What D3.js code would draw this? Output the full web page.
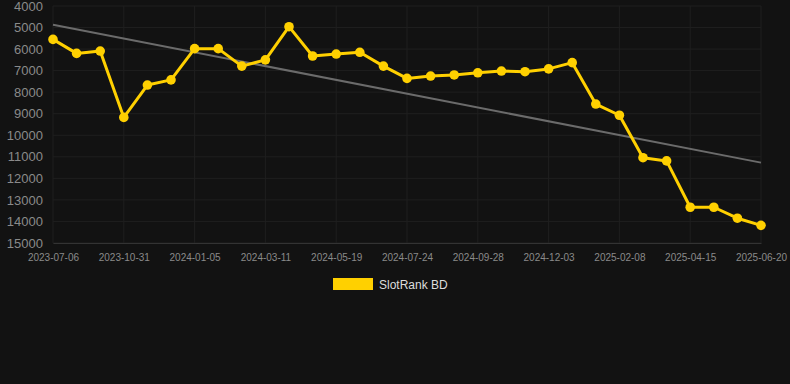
<!DOCTYPE html>
<html>
<head>
<meta charset="utf-8">
<script src="https://cdn.jsdelivr.net/npm/d3@7"></script>
<style>
    body { margin: 0; background: #121212; }
    svg { display: block; font-family: "Liberation Sans", Arial, sans-serif; }
</style>
</head>
<body>
<div id="chart"></div>
<script>
// dates of each sample (only every third one is labelled on the axis)
const dates = [
    "2023-07-06", "2023-08-14", "2023-09-22", "2023-10-31", "2023-11-22", "2023-12-14",
    "2024-01-05", "2024-01-27", "2024-02-18", "2024-03-11", "2024-04-03", "2024-04-26",
    "2024-05-19", "2024-06-10", "2024-07-02", "2024-07-24", "2024-08-15", "2024-09-06",
    "2024-09-28", "2024-10-20", "2024-11-11", "2024-12-03", "2024-12-25", "2025-01-17",
    "2025-02-08", "2025-03-02", "2025-03-24", "2025-04-15", "2025-05-07", "2025-05-29",
    "2025-06-20"
];
const ranks = [
    5550, 6200, 6090, 9170, 7670, 7430,
    5980, 5980, 6790, 6500, 4960, 6320,
    6230, 6150, 6790, 7360, 7250, 7200,
    7100, 7020, 7050, 6920, 6630, 8550,
    9070, 11040, 11190, 13340, 13340, 13850,
    14180
];
const trendEnds = [4870, 11270];
const yTicks = [4000, 5000, 6000, 7000, 8000, 9000, 10000, 11000, 12000, 13000, 14000, 15000];
const seriesName = "SlotRank BD";

const width = 790, height = 384;
const margin = { top: 6, right: 29, bottom: 141, left: 53 };
const innerW = width - margin.left - margin.right;
const innerH = height - margin.top - margin.bottom;

const svg = d3.select("#chart")
    .append("svg")
    .attr("width", width)
    .attr("height", height);

svg.append("rect")
    .attr("width", width)
    .attr("height", height)
    .attr("fill", "#121212");

const g = svg.append("g")
    .attr("transform", `translate(${margin.left},${margin.top})`);

const x = d3.scalePoint()
    .domain(dates)
    .range([0, innerW]);

const y = d3.scaleLinear()
    .domain([4000, 15000])
    .range([0, innerH]);

const labelled = dates.filter((d, i) => i % 3 === 0);

// grid
g.append("g")
    .selectAll("line")
    .data(yTicks)
    .join("line")
    .attr("x1", 0)
    .attr("x2", innerW)
    .attr("y1", d => y(d))
    .attr("y2", d => y(d))
    .attr("stroke", "#1f1f1f")
    .attr("stroke-width", 1);

g.append("g")
    .selectAll("line")
    .data(labelled)
    .join("line")
    .attr("x1", d => x(d))
    .attr("x2", d => x(d))
    .attr("y1", 0)
    .attr("y2", innerH)
    .attr("stroke", "#1f1f1f")
    .attr("stroke-width", 1);

// y axis
const yAxis = g.append("g")
    .call(d3.axisLeft(y).tickValues(yTicks).tickFormat(d3.format("d")).tickSize(0).tickPadding(10));
yAxis.select(".domain").remove();
yAxis.selectAll("text")
    .attr("fill", "#8a8a8a")
    .style("font-size", "13px");

// x axis
const xAxis = g.append("g")
    .attr("transform", `translate(0,${innerH})`)
    .call(d3.axisBottom(x).tickValues(labelled).tickSize(0).tickPadding(11));
xAxis.select(".domain").attr("stroke", "#333");
xAxis.selectAll("text")
    .attr("fill", "#8a8a8a")
    .style("font-size", "10px");

// trend line
g.append("line")
    .attr("x1", x(dates[0]))
    .attr("x2", x(dates[dates.length - 1]))
    .attr("y1", y(trendEnds[0]))
    .attr("y2", y(trendEnds[1]))
    .attr("stroke", "#6b6b6b")
    .attr("stroke-width", 2);

// series
const data = dates.map((d, i) => ({ date: d, rank: ranks[i] }));

g.append("path")
    .datum(data)
    .attr("fill", "none")
    .attr("stroke", "#ffd000")
    .attr("stroke-width", 3)
    .attr("stroke-linejoin", "round")
    .attr("d", d3.line().x(d => x(d.date)).y(d => y(d.rank)));

g.append("g")
    .selectAll("circle")
    .data(data)
    .join("circle")
    .attr("cx", d => x(d.date))
    .attr("cy", d => y(d.rank))
    .attr("r", 4.8)
    .attr("fill", "#ffd000");

// legend
const legend = svg.append("g")
    .attr("transform", "translate(333,278)");
legend.append("rect")
    .attr("width", 40)
    .attr("height", 12)
    .attr("fill", "#ffd000");
legend.append("text")
    .attr("x", 46)
    .attr("y", 10.5)
    .attr("fill", "#dddddd")
    .style("font-size", "12px")
    .text(seriesName);
</script>
</body>
</html>
